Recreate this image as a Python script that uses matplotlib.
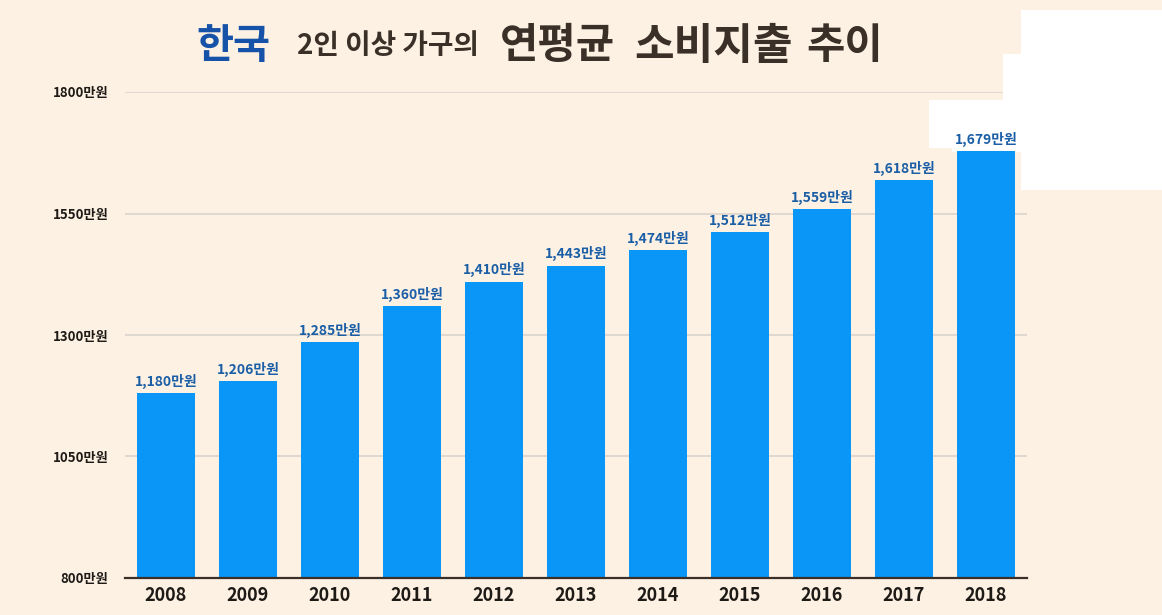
import matplotlib
matplotlib.use("Agg")
import matplotlib.pyplot as plt
from matplotlib.patches import Rectangle

# -----------------------------
# DATA
# -----------------------------
YEARS = ["2008", "2009", "2010", "2011", "2012", "2013", "2014", "2015", "2016", "2017", "2018"]
SPENDING = [1180, 1206, 1285, 1360, 1410, 1443, 1474, 1512, 1559, 1618, 1679]
Y_TICKS = [800, 1050, 1300, 1550, 1800]

TITLE_PARTS = [
    ("한국", 29, "#1653A8"),
    ("2인 이상 가구의", 20, "#3B3028"),
    ("연평균", 30, "#3B3028"),
    ("소비지출", 31, "#3B3028"),
    ("추이", 30, "#3B3028"),
]
TITLE_X = [196, 297, 500, 634, 806]

# -----------------------------
# STYLE
# -----------------------------
BG = "#FDF1E4"
BAR_COLOR = "#0A96F6"
LABEL_COLOR = "#1A5EA6"
TEXT_COLOR = "#1E1A16"
FONT = ["Noto Sans CJK KR", "DejaVu Sans"]
W, H = 1162, 615

plt.rcParams["font.family"] = FONT

fig = plt.figure(figsize=(W / 100, H / 100), dpi=100, facecolor=BG)
ax = fig.add_axes([125 / W, 1 - 578 / H, (1027 - 125) / W, (578 - 92) / H])
ax.set_facecolor("none")
ax.set_zorder(1)

x = list(range(len(YEARS)))
ax.bar(x, SPENDING, width=0.71, color=BAR_COLOR, zorder=3)

for xi, v in zip(x, SPENDING):
    ax.annotate(f"{v:,}만원", (xi, v), xytext=(0, 3), textcoords="offset points",
                ha="center", va="bottom", fontsize=10, fontweight="bold",
                color=LABEL_COLOR, zorder=4)

ax.set_xlim(-0.5, len(YEARS) - 0.5)
ax.set_ylim(Y_TICKS[0], Y_TICKS[-1])
ax.set_yticks(Y_TICKS)
ax.set_yticklabels([f"{t}만원" for t in Y_TICKS], fontsize=9.5, fontweight="bold", color=TEXT_COLOR)
ax.set_xticks(x)
ax.set_xticklabels(YEARS, fontsize=13, fontweight="bold", color=TEXT_COLOR)
ax.tick_params(axis="y", length=0, pad=12)
ax.tick_params(axis="x", length=0, pad=6)
ax.grid(True, axis="y", color="#D9D4CE", linewidth=1.2, zorder=1)

for side in ["top", "right", "left"]:
    ax.spines[side].set_visible(False)
ax.spines["bottom"].set_color("#3A3028")
ax.spines["bottom"].set_linewidth(1.6)
ax.spines["bottom"].set_zorder(5)

# title pieces
for (txt, size, col), px in zip(TITLE_PARTS, TITLE_X):
    fig.text(px / W, 1 - 46 / H, txt, fontsize=size, fontweight="bold",
             color=col, ha="left", va="center")

# white patches from the screenshot (drawn under the axes)
for (x0, y0, x1, y1) in [(1021, 10, 1162, 190), (1003, 54, 1021, 100),
                         (929, 100, 1021, 148), (952, 128, 1021, 152)]:
    fig.add_artist(Rectangle((x0 / W, 1 - y1 / H), (x1 - x0) / W, (y1 - y0) / H,
                             transform=fig.transFigure, facecolor="white",
                             edgecolor="none", zorder=0.5))
# the top gridline is hidden under the patch in the screenshot
fig.add_artist(Rectangle((1003 / W, 1 - 97 / H), 30 / W, 10 / H,
                         transform=fig.transFigure, facecolor="white",
                         edgecolor="none", zorder=2))

fig.savefig("out.png", dpi=100, facecolor=BG)
